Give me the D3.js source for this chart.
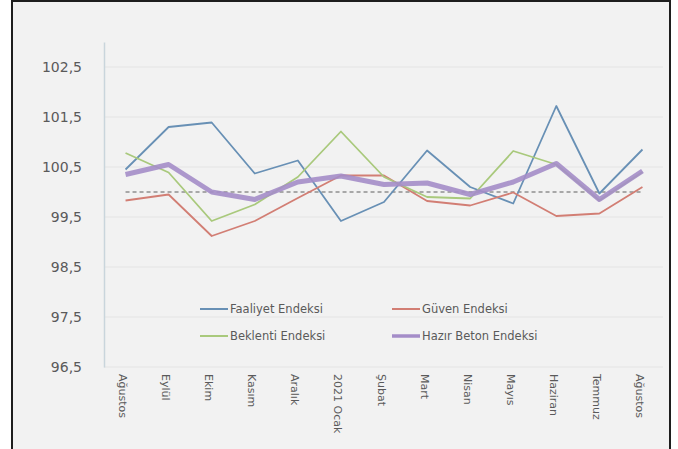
<!DOCTYPE html>
<html><head><meta charset="utf-8">
<script src="https://cdn.jsdelivr.net/npm/d3@7"></script>
<style>body{margin:0;background:#fff;}svg{display:block;}</style>
</head><body>
<svg id="c" width="678" height="449"></svg>
<script>
const categories = ["Ağustos","Eylül","Ekim","Kasım","Aralık","2021 Ocak","Şubat","Mart","Nisan","Mayıs","Haziran","Temmuz","Ağustos"];
const faaliyet = [100.45,101.3,101.39,100.37,100.63,99.42,99.8,100.83,100.1,99.77,101.72,99.97,100.85];
const guven    = [99.83,99.95,99.12,99.42,99.88,100.33,100.33,99.82,99.73,99.99,99.52,99.57,100.1];
const beklenti = [100.78,100.39,99.42,99.75,100.3,101.21,100.3,99.9,99.87,100.82,100.55,99.83,100.4];
const hazir    = [100.35,100.55,100.0,99.85,100.2,100.32,100.15,100.18,99.95,100.2,100.57,99.85,100.42];
const reference = [100,100,100,100,100,100,100,100,100,100,100,100,100];
const yTicks = [96.5,97.5,98.5,99.5,100.5,101.5,102.5];
const seriesNames = ["Faaliyet Endeksi","Güven Endeksi","Beklenti Endeksi","Hazır Beton Endeksi"];

const svg = d3.select("#c");
svg.append("rect").attr("x",12).attr("y",1).attr("width",658).attr("height",460)
  .attr("fill","#f2f2f2").attr("stroke","#1e1e1e").attr("stroke-width",2);

const x = d3.scalePoint().domain(d3.range(categories.length)).range([104,664]).padding(0.5);
const y = d3.scaleLinear().domain([96.5,103]).range([367,42]);

// gridlines
svg.append("g").selectAll("line").data(yTicks).join("line")
  .attr("x1",104).attr("x2",663).attr("y1",d=>y(d)).attr("y2",d=>y(d))
  .attr("stroke","#e3e3e3").attr("stroke-width",1.2);

// y axis
const yAxis = d3.axisLeft(y).tickValues(yTicks).tickSize(0).tickPadding(22)
  .tickFormat(d=>d3.format(".1f")(d).replace(".",","));
const gy = svg.append("g").attr("transform","translate(104,0)").call(yAxis);
gy.select(".domain").attr("stroke","#c9d5dc").attr("stroke-width",1.5);
gy.selectAll("text").attr("font-family","DejaVu Sans").attr("font-size",14).attr("fill","#5a5a5a");

// x axis
const xAxis = d3.axisBottom(x).tickSize(0).tickFormat(i=>categories[i]);
const gx = svg.append("g").attr("transform","translate(0,367)").call(xAxis);
gx.select(".domain").remove();
gx.selectAll("text").attr("font-family","DejaVu Sans").attr("font-size",11).attr("fill","#5a5a5a")
  .attr("text-anchor","start").attr("dy",null).attr("y",0)
  .attr("transform",d=>`translate(-4,7) rotate(90)`)
  .attr("dominant-baseline","middle");

const line = d3.line().x((d,i)=>x(i)).y(d=>y(d));

svg.append("path").attr("d",line(reference)).attr("fill","none")
  .attr("stroke","#a8a8a8").attr("stroke-width",1.8).attr("stroke-dasharray","4,3");

const styles = [
  {data:faaliyet,color:"#6890b5",w:1.8,op:1},
  {data:guven,color:"#d27e74",w:1.8,op:1},
  {data:beklenti,color:"#a9c97c",w:1.8,op:1},
  {data:hazir,color:"#a48dc8",w:5,op:0.9}
];
styles.forEach(s=>{
  svg.append("path").attr("d",line(s.data)).attr("fill","none")
    .attr("stroke",s.color).attr("stroke-width",s.w).attr("stroke-opacity",s.op)
    .attr("stroke-linejoin","round");
});

// legend
const legPos = [[200,309],[392,309],[200,336],[392,336]];
styles.forEach((s,i)=>{
  const [lx,ly] = legPos[i];
  svg.append("line").attr("x1",lx).attr("x2",lx+28).attr("y1",ly).attr("y2",ly)
    .attr("stroke",s.color).attr("stroke-width",i===3?3.5:2);
  svg.append("text").attr("x",lx+30).attr("y",ly).attr("dominant-baseline","middle")
    .attr("font-family","DejaVu Sans").attr("font-size",11.5).attr("fill","#5a5a5a")
    .text(seriesNames[i]);
});
</script>
</body></html>
